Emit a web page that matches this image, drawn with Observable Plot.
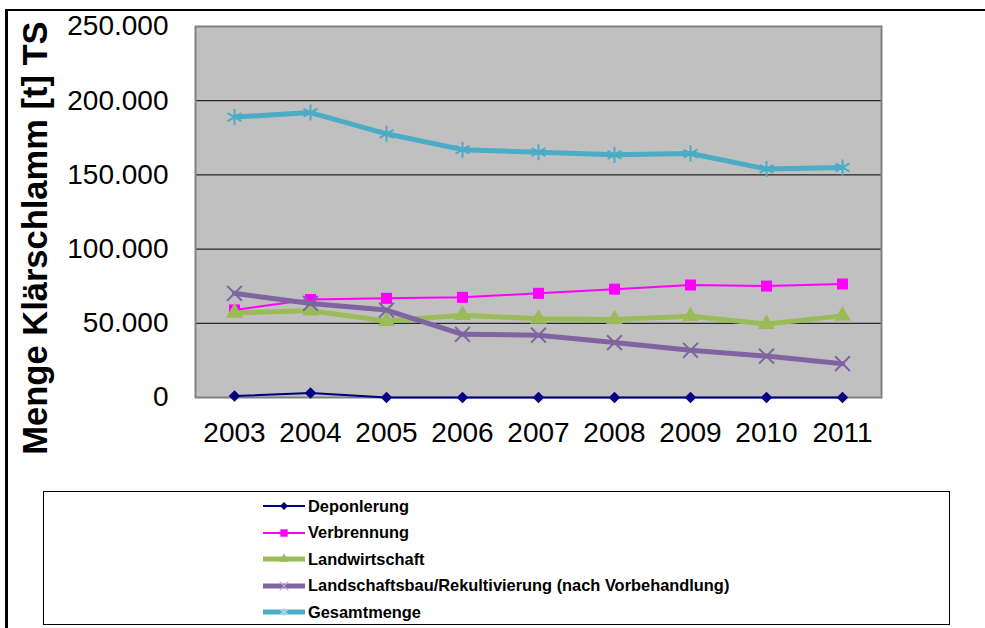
<!DOCTYPE html>
<html>
<head>
<meta charset="utf-8">
<script src="https://cdn.jsdelivr.net/npm/d3@7"></script>
<script src="https://cdn.jsdelivr.net/npm/@observablehq/plot@0.6"></script>
<style>
  html, body { margin: 0; padding: 0; background: #fff; overflow: hidden; }
  #wrap { position: relative; width: 985px; height: 628px; font-family: "Liberation Sans", Arial, sans-serif; }
  #outer { position: absolute; left: 5px; top: 9px; width: 1000px; height: 700px; border-top: 2.5px solid #000; border-left: 3px solid #000; box-sizing: border-box; }
  #chart { position: absolute; left: 0; top: 0; }
  #legend { position: absolute; left: 43px; top: 491px; width: 907px; height: 134px; border: 1.5px solid #000; box-sizing: border-box; background: #fff; }
  .row { position: absolute; left: 0; height: 20px; display: flex; align-items: center; }
  .row svg { display: block; }
  .row span { font-size: 16.4px; font-weight: bold; color: #000; margin-left: 3px; white-space: nowrap; }
</style>
</head>
<body>
<div id="wrap">
  <div id="outer"></div>
  <div id="chart"></div>
  <div id="legend"></div>
</div>
<script>
const years = ["2003", "2004", "2005", "2006", "2007", "2008", "2009", "2010", "2011"];
const deponierung    = [1000, 3000, 0, 0, 0, 0, 0, 0, 0];
const verbrennung    = [59000, 66000, 66800, 67500, 70200, 73000, 75800, 75100, 76500];
const landwirtschaft = [57000, 58500, 51500, 55500, 53000, 52600, 54800, 49500, 55000];
const landschaftsbau = [70200, 63400, 58900, 42600, 42000, 37000, 31800, 27900, 22800];
const gesamtmenge    = [189000, 192000, 177700, 167000, 165300, 163500, 164400, 154000, 155000];
const seriesNames = ["Deponlerung", "Verbrennung", "Landwirtschaft", "Landschaftsbau/Rekultivierung (nach Vorbehandlung)", "Gesamtmenge"];
const yTicks = [0, 50000, 100000, 150000, 200000, 250000];
const gridValues = [50000, 100000, 150000, 200000];
const yTitle = "Menge Klärschlamm [t] TS";

const seriesValues = [deponierung, verbrennung, landwirtschaft, landschaftsbau, gesamtmenge];
const styles = [
  {color: "#000080", width: 2,   symbol: "diamond2", fill: true,  r: 5.2, legR: 3.6},
  {color: "#FF00FF", width: 2,   symbol: "square",   fill: true,  r: 6.2, legR: 4.2},
  {color: "#9BBB59", width: 5,   symbol: "triangle", fill: true,  r: 6.3, legR: 3.6},
  {color: "#8064A2", width: 5,   symbol: "times",    fill: false, r: 6.8, legR: 4},
  {color: "#4BACC6", width: 5,   symbol: "asterisk", fill: false, r: 7.6, legR: 4}
];

const fmt = d => d3.format(",")(d).replace(/,/g, ".");

const marks = [
  Plot.frame({fill: "#C0C0C0", stroke: "none"}),
  Plot.ruleY(gridValues, {stroke: "#000", strokeWidth: 1}),
  Plot.frame({stroke: "#808080", strokeWidth: 2}),
  Plot.axisY({ticks: yTicks, tickSize: 0, tickPadding: 27, tickFormat: fmt, fontSize: 28, label: null}),
  Plot.axisX({tickSize: 0, tickPadding: 25, fontSize: 28, label: null}),
  Plot.text([yTitle], {text: d => d, frameAnchor: "left", textAnchor: "middle", rotate: -90, dx: -160, dy: 26, fontSize: 34.5, fontWeight: "bold", fill: "#000"})
];

seriesNames.forEach((name, i) => {
  const data = years.map((yr, j) => ({year: yr, value: seriesValues[i][j]}));
  const s = styles[i];
  marks.push(Plot.line(data, {x: "year", y: "value", stroke: s.color, strokeWidth: s.width, strokeLinejoin: "round"}));
  marks.push(Plot.dot(data, {
    x: "year", y: "value", symbol: () => s.symbol, r: s.r,
    fill: s.fill ? s.color : "none", stroke: s.color, strokeWidth: s.fill ? 0 : 2
  }));
});

const chart = Plot.plot({
  width: 985,
  height: 460,
  marginLeft: 195,
  marginRight: 104,
  marginTop: 26,
  marginBottom: 63,
  style: {fontFamily: "'Liberation Sans', Arial, sans-serif", color: "#000", background: "transparent", overflow: "visible"},
  x: {type: "point", domain: years, padding: 0.5, axis: null},
  y: {domain: [0, 250000], axis: null},
  symbol: {type: "identity"},
  marks
});
document.getElementById("chart").appendChild(chart);

// Legend
const symMap = {diamond2: d3.symbolDiamond2, square: d3.symbolSquare, triangle: d3.symbolTriangle, times: d3.symbolTimes, asterisk: d3.symbolAsterisk};
const legend = d3.select("#legend");
seriesNames.forEach((name, i) => {
  const s = styles[i];
  const row = legend.append("div").attr("class", "row")
    .style("left", "219px")
    .style("top", (4 + i * 26.5) + "px");
  const svg = row.append("svg").attr("width", 42).attr("height", 20);
  svg.append("line").attr("x1", 0).attr("x2", 42).attr("y1", 10).attr("y2", 10)
    .attr("stroke", s.color).attr("stroke-width", s.width);
  svg.append("path")
    .attr("d", d3.symbol(symMap[s.symbol], Math.PI * s.legR * s.legR)())
    .attr("transform", "translate(21,10)")
    .attr("fill", s.fill ? s.color : "none")
    .attr("stroke", s.fill ? "none" : (i === 3 ? "#B9A9D0" : "#A9DCE8"))
    .attr("stroke-width", 1.2);
  row.append("span").text(name);
});
</script>
</body>
</html>
